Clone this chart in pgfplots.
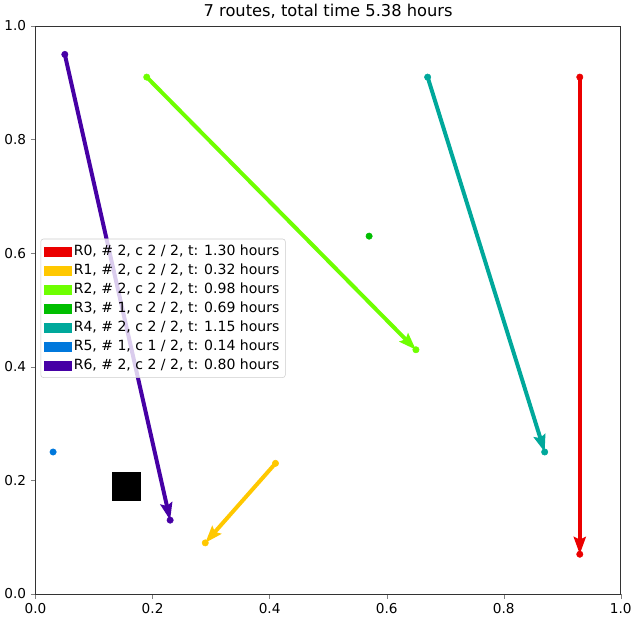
\documentclass[border=0pt]{standalone}
\usepackage{pgfplots}
\pgfplotsset{compat=1.18}
\usepackage{fontspec}
\setmainfont{DejaVu Sans}
\usetikzlibrary{arrows.meta}
\definecolor{cR0}{RGB}{235,0,0}
\definecolor{cR1}{RGB}{255,200,0}
\definecolor{cR2}{RGB}{110,255,0}
\definecolor{cR3}{RGB}{0,190,0}
\definecolor{cR4}{RGB}{0,168,155}
\definecolor{cR5}{RGB}{0,120,220}
\definecolor{cR6}{RGB}{70,0,165}
\pgfplotsset{legpatch/.style={legend image code/.code={\fill[#1, sharp corners, fill opacity=1, draw opacity=1] (0pt,-3.4pt) rectangle (20pt,3.4pt);}}}
\begin{document}
\begin{tikzpicture}
\begin{axis}[
  scale only axis,
  width=442pt, height=429pt,
  xmin=0, xmax=1, ymin=0, ymax=1,
  xtick={0,0.2,...,1.0}, ytick={0,0.2,...,1.0},
  tick pos=left, tick align=outside,
  major tick length=3.6pt,
  /pgf/number format/assume math mode=true,
  xticklabel style={/pgf/number format/fixed,/pgf/number format/fixed zerofill,/pgf/number format/precision=1},
  yticklabel style={/pgf/number format/fixed,/pgf/number format/fixed zerofill,/pgf/number format/precision=1},
  tick label style={font=\fontsize{10.3}{12}\selectfont},
  title={7 routes, total time 5.38 hours},
  title style={font=\fontsize{12.3}{14}\selectfont, yshift=-4pt},
  axis line style={black!80},
  legend style={at={(0.0085,0.503)}, anchor=west, font=\fontsize{10.6}{12}\selectfont,
    draw=black!20, rounded corners=2pt, fill=white, fill opacity=0.8, text opacity=1,
    row sep=0.8pt, inner sep=2.5pt},
  legend cell align=left,
]
% depot
\addplot[only marks, mark=square*, mark size=10.5pt, black, forget plot] coordinates {(0.155,0.19)};
% routes lines
\addplot[cR0, line width=3pt, -{Stealth[length=13pt,width=9pt,inset=2pt]}, forget plot] coordinates {(0.93,0.91)(0.93,0.07)};
\addplot[cR1, line width=3pt, -{Stealth[length=13pt,width=9pt,inset=2pt]}, forget plot] coordinates {(0.41,0.23)(0.29,0.09)};
\addplot[cR2, line width=3pt, -{Stealth[length=13pt,width=9pt,inset=2pt]}, forget plot] coordinates {(0.19,0.91)(0.65,0.43)};
\addplot[cR4, line width=3pt, -{Stealth[length=13pt,width=9pt,inset=2pt]}, forget plot] coordinates {(0.67,0.91)(0.87,0.25)};
\addplot[cR6, line width=3pt, -{Stealth[length=13pt,width=9pt,inset=2pt]}, forget plot] coordinates {(0.05,0.95)(0.23,0.13)};
% markers
\addplot[only marks, mark=*, mark size=2.4pt, cR0, forget plot] coordinates {(0.93,0.91)(0.93,0.07)};
\addplot[only marks, mark=*, mark size=2.4pt, cR1, forget plot] coordinates {(0.41,0.23)(0.29,0.09)};
\addplot[only marks, mark=*, mark size=2.4pt, cR2, forget plot] coordinates {(0.19,0.91)(0.65,0.43)};
\addplot[only marks, mark=*, mark size=2.4pt, cR3, forget plot] coordinates {(0.57,0.63)};
\addplot[only marks, mark=*, mark size=2.4pt, cR4, forget plot] coordinates {(0.67,0.91)(0.87,0.25)};
\addplot[only marks, mark=*, mark size=2.4pt, cR5, forget plot] coordinates {(0.03,0.25)};
\addplot[only marks, mark=*, mark size=2.4pt, cR6, forget plot] coordinates {(0.05,0.95)(0.23,0.13)};
% legend
\addlegendimage{legpatch=cR0}
\addlegendentry{R0, \# 2, c 2 / 2, t: 1.30 hours}
\addlegendimage{legpatch=cR1}
\addlegendentry{R1, \# 2, c 2 / 2, t: 0.32 hours}
\addlegendimage{legpatch=cR2}
\addlegendentry{R2, \# 2, c 2 / 2, t: 0.98 hours}
\addlegendimage{legpatch=cR3}
\addlegendentry{R3, \# 1, c 2 / 2, t: 0.69 hours}
\addlegendimage{legpatch=cR4}
\addlegendentry{R4, \# 2, c 2 / 2, t: 1.15 hours}
\addlegendimage{legpatch=cR5}
\addlegendentry{R5, \# 1, c 1 / 2, t: 0.14 hours}
\addlegendimage{legpatch=cR6}
\addlegendentry{R6, \# 2, c 2 / 2, t: 0.80 hours}
\end{axis}
\end{tikzpicture}
\end{document}
